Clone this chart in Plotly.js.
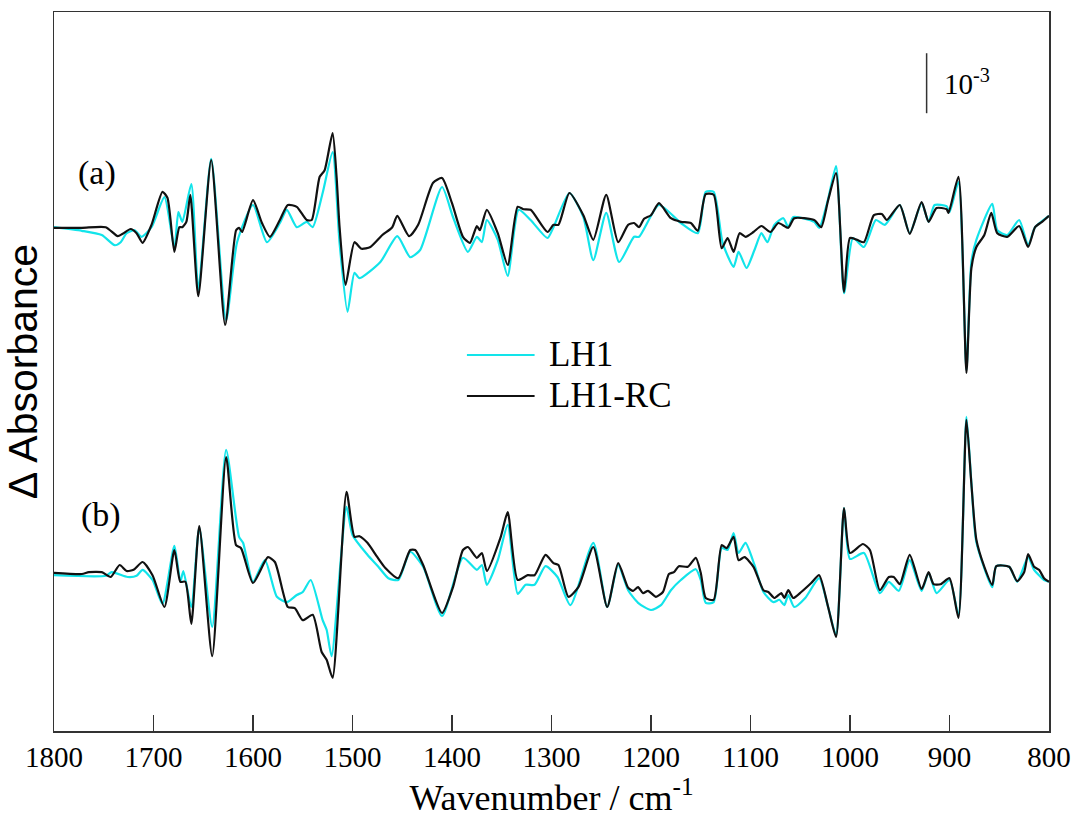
<!DOCTYPE html>
<html>
<head>
<meta charset="utf-8">
<script src="https://cdn.plot.ly/plotly-3.0.1.min.js"></script>
<style>html,body{margin:0;padding:0;background:#fff;}#chart{width:1075px;height:834px;}</style>
</head>
<body>
<div id="chart"></div>
<script>
// Wavenumbers (cm^-1) and ΔA values (units of 10^-3)
// Panel (a) – LH1
const wnA_LH1 = [1800,1772,1752,1739,1733,1727,1719,1712,1702,1689,1679,1675,1671,1662,1655,1642,1627,1616,1600,1586,1573,1566,1556,1546,1540,1530,1520,1513,1505,1498,1493,1472,1455,1442,1432,1410,1399,1384,1375,1370,1365,1354,1344,1333,1321,1304,1298,1282,1268,1258,1245,1232,1217,1212,1192,1170,1153,1145,1137,1128,1117,1112,1104,1096,1089,1083,1076,1067,1062,1057,1036,1031,1022,1014,1006,997,986,974,965,950,940,928,921,915,903,900,891,883,878,873,857,852,842,830,821,814,800];
const dA_LH1 = [0.03,-0.03,-0.10,-0.27,-0.22,-0.07,-0.02,-0.13,0.03,0.53,-0.32,0.28,0.12,0.75,-1.02,1.17,-1.52,-0.22,0.40,-0.22,0.10,0.32,0.03,0.12,0.03,0.60,1.28,-0.23,-1.38,-0.73,-0.82,-0.55,-0.12,-0.47,-0.35,0.70,0.20,-0.38,-0.13,-0.22,0.15,-0.18,-0.78,0.32,0.15,-0.15,0.03,0.60,0.20,-0.52,0.27,-0.55,-0.13,-0.13,0.40,0.10,-0.07,0.62,0.62,-0.23,-0.63,-0.38,-0.65,-0.35,-0.07,-0.22,0.07,0.18,0.03,0.20,0.12,0.02,0.50,1.05,-1.07,-0.15,-0.30,0.15,0.07,0.40,-0.07,0.43,0.12,0.40,0.38,0.28,0.78,-2.35,-0.55,-0.18,0.42,-0.02,-0.10,0.15,-0.27,0.03,0.22];

// Panel (a) – LH1-RC
const wnA_LH1RC = [1800,1772,1748,1736,1731,1723,1717,1711,1702,1691,1686,1679,1674,1671,1667,1663,1655,1642,1628,1617,1614,1611,1600,1591,1583,1573,1565,1556,1546,1541,1533,1528,1520,1516,1513,1507,1498,1491,1482,1470,1460,1455,1443,1434,1419,1410,1400,1389,1382,1375,1372,1365,1354,1344,1334,1328,1321,1304,1298,1293,1282,1268,1258,1245,1233,1223,1217,1212,1207,1200,1192,1180,1170,1160,1153,1145,1137,1129,1123,1117,1111,1105,1097,1089,1080,1072,1062,1056,1036,1029,1022,1014,1006,1000,993,986,976,968,963,950,940,928,921,913,903,901,891,883,878,873,865,858,852,842,830,821,814,807,800];
const dA_LH1RC = [0.02,0.02,0.03,-0.12,-0.08,0,-0.07,-0.23,0.07,0.62,0.52,-0.38,0.03,0.03,0.12,0.57,-1.12,1.15,-1.60,-0.02,0.02,-0.05,0.48,0.10,-0.13,0.15,0.40,0.37,0.15,0.15,0.87,0.98,1.60,0.87,0.03,-0.93,-0.22,-0.33,-0.30,-0.10,0.03,0.22,-0.12,0.07,0.77,0.85,0.43,-0.13,-0.23,0.05,-0.02,0.32,-0.07,-0.60,0.37,0.33,0.32,-0.05,0.07,0.07,0.60,0.23,-0.18,0.57,-0.22,0.07,0.10,0.03,0.17,0.23,0.43,0.18,0.12,0.10,-0.03,0.58,0.57,-0.32,-0.15,-0.38,-0.07,-0.13,-0.05,0.05,-0.05,0.10,0.02,0.18,0.15,0.03,0.48,0.93,-1.05,-0.15,-0.18,-0.22,0.23,0.25,0.15,0.40,-0.08,0.45,0.12,0.35,0.33,0.27,0.87,-2.40,-0.65,-0.30,-0.10,0.27,-0.07,-0.13,0.05,-0.30,0.03,0.12,0.22];

// Panel (b) – LH1
const wnB_LH1 = [1800,1748,1742,1726,1717,1711,1701,1691,1679,1673,1670,1662,1654,1641,1627,1614,1610,1600,1588,1576,1566,1556,1550,1542,1530,1526,1521,1506,1500,1485,1474,1464,1454,1442,1429,1410,1389,1375,1370,1365,1354,1344,1334,1326,1317,1306,1294,1281,1258,1244,1233,1223,1213,1200,1190,1180,1170,1155,1150,1145,1137,1129,1123,1117,1112,1105,1096,1087,1077,1071,1066,1062,1056,1045,1031,1022,1014,1006,1000,986,970,961,951,940,928,921,913,900,891,883,878,873,857,853,840,832,821,815,805,800];
const dB_LH1 = [-0.02,-0.03,0.03,-0.05,-0.03,0.07,-0.10,-0.50,0.47,-0.13,0.05,-0.55,0.77,-0.88,2.07,0.62,0.52,-0.13,0.23,-0.38,-0.47,-0.35,-0.30,-0.10,-0.77,-0.93,-1.37,1.12,0.65,0.32,0.12,-0.07,-0.10,0.37,0.12,-0.70,0.27,0.07,0.15,-0.18,0.23,0.82,-0.33,-0.18,-0.18,0.13,-0.05,-0.52,0.52,-0.55,0.15,-0.27,-0.48,-0.60,-0.52,-0.27,-0.10,0.08,-0.10,-0.48,-0.47,0.43,0.40,0.68,0.35,0.52,0.15,-0.30,-0.47,-0.43,-0.52,-0.35,-0.55,-0.40,-0.07,-0.55,-1.02,1.10,0.25,0.35,-0.32,-0.13,-0.28,0.23,-0.28,0.02,-0.32,-0.10,-0.68,2.62,1.52,0.53,-0.22,0.13,0.12,-0.13,0.28,0.07,-0.10,-0.13];

// Panel (b) – LH1-RC
const wnB_LH1RC = [1800,1772,1765,1752,1743,1734,1727,1720,1711,1701,1689,1679,1673,1668,1662,1654,1641,1627,1617,1612,1600,1585,1578,1565,1558,1550,1540,1531,1526,1520,1506,1498,1493,1485,1475,1467,1454,1442,1437,1429,1410,1399,1389,1384,1375,1370,1365,1351,1344,1334,1324,1317,1306,1298,1293,1283,1273,1258,1244,1233,1223,1218,1213,1208,1203,1195,1188,1182,1177,1172,1163,1155,1150,1145,1137,1129,1124,1117,1112,1106,1097,1087,1082,1076,1069,1066,1062,1057,1049,1039,1031,1022,1014,1006,1000,987,980,970,961,956,950,940,928,921,916,909,900,891,883,878,873,865,857,853,840,832,825,821,815,810,805,800];
const dB_LH1RC = [0.02,0,0.03,0.03,-0.05,0.15,0.05,0.07,0.20,-0.02,-0.55,0.40,-0.13,-0.13,-0.83,0.80,-1.37,1.95,0.48,0.43,-0.15,0.28,0.20,-0.55,-0.57,-0.77,-0.68,-1.30,-1.43,-1.73,1.37,0.62,0.63,0.52,0.28,0.10,-0.07,0.40,0.40,0.15,-0.65,-0.22,0.40,0.45,0.27,0.35,0.05,0.62,1.03,-0.10,-0.02,-0.02,0.32,0.18,0.15,-0.38,-0.22,0.45,-0.55,0.18,-0.23,-0.28,-0.22,-0.32,-0.28,-0.38,-0.30,0,0.03,0.13,0.12,0.27,0.02,-0.40,-0.43,0.48,0.43,0.62,0.23,0.28,0.12,-0.27,-0.30,-0.40,-0.32,-0.40,-0.27,-0.40,-0.30,-0.15,-0.02,-0.55,-1.05,1.10,0.35,0.50,0.40,-0.27,-0.05,-0.05,-0.17,0.32,-0.25,0.03,-0.17,-0.17,-0.07,-0.73,2.57,1.50,0.57,0.12,-0.18,0.13,0.12,-0.12,0.03,0.33,0.12,0.07,-0.07,-0.13];

const seriesNames = ["LH1", "LH1-RC"];
const panelLabels = ["(a)", "(b)"];
const xTicks = [1800,1700,1600,1500,1400,1300,1200,1100,1000,900,800];
const scaleBarSize = 1; // 10^-3 in data units

// presentation
const offsetB = -5.75;
const cyan = "#12e4ea", black = "#111111";
const serif = "Liberation Serif";
const sans = "Liberation Sans";

function shift(arr, off){ return arr.map(v => v + off); }

const lineBase = {type:"scatter", mode:"lines", showlegend:false, line:{width:2.2, shape:"spline", smoothing:0.6}};
const traces = [
  Object.assign({}, lineBase, {x:wnA_LH1, y:dA_LH1, name:seriesNames[0], line:Object.assign({}, lineBase.line, {color:cyan})}),
  Object.assign({}, lineBase, {x:wnB_LH1, y:shift(dB_LH1, offsetB), name:seriesNames[0], line:Object.assign({}, lineBase.line, {color:cyan})}),
  Object.assign({}, lineBase, {x:wnA_LH1RC, y:dA_LH1RC, name:seriesNames[1], line:Object.assign({}, lineBase.line, {color:black})}),
  Object.assign({}, lineBase, {x:wnB_LH1RC, y:shift(dB_LH1RC, offsetB), name:seriesNames[1], line:Object.assign({}, lineBase.line, {color:black})})
];

// manual legend (long line samples as in the original)
const legX0 = 0.415, legX1 = 0.483, legTextX = 0.495;
const legY = [0.523, 0.466];
const legColors = [cyan, black];

const shapes = [
  {type:"line", xref:"x", yref:"y", x0:923, x1:923, y0:1.93, y1:1.93+scaleBarSize, line:{color:"#333", width:1.5}}
];
const annotations = [
  {x:1757, y:0.93, xref:"x", yref:"y", text:panelLabels[0], showarrow:false, font:{family:serif, size:34, color:"#000"}},
  {x:1753, y:-4.77, xref:"x", yref:"y", text:panelLabels[1], showarrow:false, font:{family:serif, size:34, color:"#000"}},
  {x:908, y:2.45, xref:"x", yref:"y", xanchor:"left", text:"10<sup>-3</sup>", showarrow:false, font:{family:serif, size:29, color:"#000"}}
];
seriesNames.forEach((nm, i) => {
  shapes.push({type:"line", xref:"paper", yref:"paper", x0:legX0, x1:legX1, y0:legY[i], y1:legY[i], line:{color:legColors[i], width:2}});
  annotations.push({x:legTextX, y:legY[i], xref:"paper", yref:"paper", xanchor:"left", yanchor:"middle", text:nm, showarrow:false, font:{family:serif, size:35, color:"#000"}});
});

const axisLine = {showline:true, linecolor:"#333", linewidth:1.5, mirror:true, showgrid:false, zeroline:false};
const layout = {
  width:1075, height:834,
  margin:{l:54, r:26, t:12, b:103},
  paper_bgcolor:"#fff", plot_bgcolor:"#fff",
  font:{family:serif, color:"#000"},
  showlegend:false,
  xaxis:Object.assign({}, axisLine, {
    range:[1800,800], tickmode:"array", tickvals:xTicks, ticktext:xTicks.map(String),
    ticks:"inside", ticklen:16, tickwidth:1.5, tickcolor:"#333",
    tickfont:{family:serif, size:29, color:"#000"},
    title:{text:"Wavenumber / cm<sup>-1</sup>", font:{family:serif, size:36, color:"#000"}, standoff:12}
  }),
  yaxis:Object.assign({}, axisLine, {
    range:[-8.367, 3.617], showticklabels:false, ticks:"",
    title:{text:"Δ Absorbance", font:{family:sans, size:41, color:"#000"}, standoff:2}
  }),
  annotations:annotations,
  shapes:shapes
};

Plotly.newPlot("chart", traces, layout, {displayModeBar:false, staticPlot:true});
</script>
</body>
</html>
